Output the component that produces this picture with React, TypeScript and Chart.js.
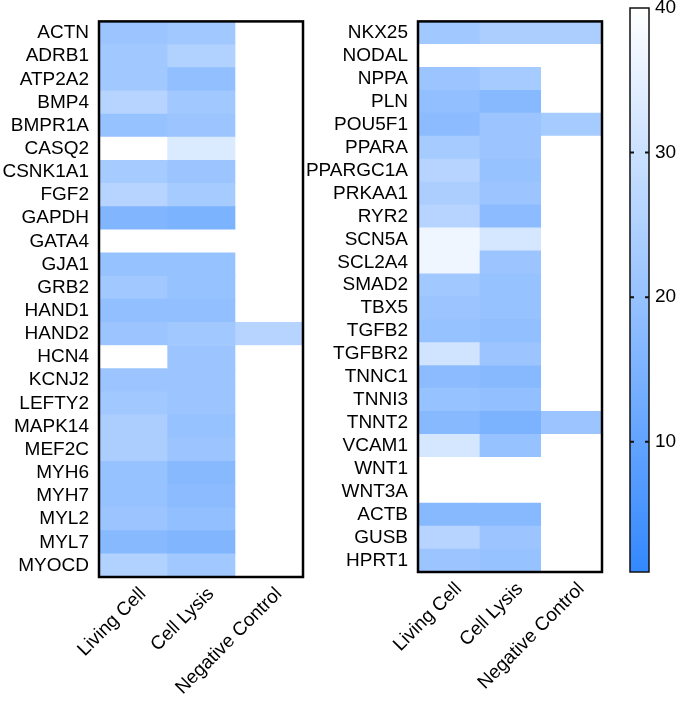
import React, { useEffect, useRef } from "react";
import { Chart, registerables } from "chart.js";
Chart.register(...registerables);

const FONT = "'Liberation Sans', Arial, sans-serif";
const columns = ["Living Cell", "Cell Lysis", "Negative Control"];

const genesLeft = [
  "ACTN", "ADRB1", "ATP2A2", "BMP4", "BMPR1A", "CASQ2", "CSNK1A1", "FGF2",
  "GAPDH", "GATA4", "GJA1", "GRB2", "HAND1", "HAND2", "HCN4", "KCNJ2",
  "LEFTY2", "MAPK14", "MEF2C", "MYH6", "MYH7", "MYL2", "MYL7", "MYOCD",
];
const livingLeft = [21, 22, 22, 26, 20, 40, 23, 26, 16, 40, 20, 22, 19, 21, 40, 21, 22, 24, 24, 20, 20, 21, 17, 25];
const lysisLeft = [22, 25, 19, 22, 21, 33, 21, 23, 15, 40, 20, 20, 19, 22, 21, 21, 21, 20, 21, 17, 18, 19, 16, 22];
const negLeft = [40, 40, 40, 40, 40, 40, 40, 40, 40, 40, 40, 40, 40, 26, 40, 40, 40, 40, 40, 40, 40, 40, 40, 40];

const genesRight = [
  "NKX25", "NODAL", "NPPA", "PLN", "POU5F1", "PPARA", "PPARGC1A", "PRKAA1",
  "RYR2", "SCN5A", "SCL2A4", "SMAD2", "TBX5", "TGFB2", "TGFBR2", "TNNC1",
  "TNNI3", "TNNT2", "VCAM1", "WNT1", "WNT3A", "ACTB", "GUSB", "HPRT1",
];
const livingRight = [22, 40, 21, 19, 18, 23, 26, 24, 26, 37, 37, 22, 21, 20, 31, 18, 20, 17, 32, 40, 40, 17, 26, 21];
const lysisRight = [24, 40, 23, 17, 21, 21, 20, 21, 18, 32, 21, 20, 20, 19, 21, 17, 19, 15, 20, 40, 40, 17, 21, 20];
const negRight = [24, 40, 40, 40, 23, 40, 40, 40, 40, 40, 40, 40, 40, 40, 40, 40, 40, 21, 40, 40, 40, 40, 40, 40];

const scaleMin = 1;
const scaleMax = 40;
const colorbarTicks = [10, 20, 30, 40];

const LOW = [51, 136, 255];
const HIGH = [255, 255, 255];
function colorFor(v: number): string {
  let t = (v - scaleMin) / (scaleMax - scaleMin);
  t = Math.max(0, Math.min(1, t));
  const c = LOW.map((l, i) => Math.round(l + (HIGH[i] - l) * t));
  return `rgb(${c[0]},${c[1]},${c[2]})`;
}

const frame = {
  id: "frame",
  afterDatasetsDraw(chart: any) {
    const { ctx, chartArea } = chart;
    ctx.save();
    ctx.strokeStyle = "#000";
    ctx.lineWidth = 2.5;
    ctx.strokeRect(chartArea.left, chartArea.top, chartArea.right - chartArea.left, chartArea.bottom - chartArea.top);
    ctx.restore();
  },
};

type HMProps = {
  genes: string[];
  series: number[][];
  left: number;
  width: number;
  yWidth: number;
  top: number;
  bottom: number;
  rightPad: number;
};

function Heatmap({ genes, series, left, width, yWidth, top, bottom, rightPad }: HMProps) {
  const ref = useRef<HTMLCanvasElement>(null);
  useEffect(() => {
    const chart = new Chart(ref.current!, {
      type: "bar",
      data: {
        labels: genes,
        datasets: series.map((vals, c) => ({
          data: vals.map(() => [c, c + 1]),
          backgroundColor: vals.map(colorFor),
          borderWidth: 0,
          barPercentage: 1,
          categoryPercentage: 1,
          grouped: false,
        })) as any,
      },
      options: {
        indexAxis: "y",
        responsive: true,
        maintainAspectRatio: false,
        animation: false,
        layout: { padding: { top, right: rightPad, left: 0, bottom: 0 } },
        plugins: { legend: { display: false }, tooltip: { enabled: false } },
        scales: {
          x: {
            type: "linear",
            min: 0,
            max: 3,
            position: "bottom",
            grid: { display: false, drawTicks: false },
            border: { display: false },
            afterBuildTicks: (s: any) => {
              s.ticks = columns.map((_, i) => ({ value: i + 0.5 }));
            },
            afterFit: (s: any) => {
              s.height = 704 - bottom;
              s.paddingLeft = 0;
              s.paddingRight = 0;
            },
            ticks: {
              autoSkip: false,
              minRotation: 45,
              maxRotation: 45,
              labelOffset: 10,
              padding: 6,
              color: "#000",
              font: { family: FONT, size: 19 },
              callback: (_v: any, i: number) => columns[i],
            },
          },
          y: {
            type: "category",
            grid: { display: false, drawTicks: false },
            border: { display: false },
            afterFit: (s: any) => {
              s.width = yWidth;
            },
            ticks: {
              autoSkip: false,
              padding: 10,
              color: "#000",
              font: { family: FONT, size: 19 },
            },
          },
        },
      } as any,
      plugins: [frame],
    });
    return () => chart.destroy();
  }, []);
  return (
    <div style={{ position: "absolute", left, top: 0, width, height: 704 }}>
      <canvas ref={ref} />
    </div>
  );
}

function ColorBar() {
  const ref = useRef<HTMLCanvasElement>(null);
  useEffect(() => {
    const cbFrame = {
      id: "cbFrame",
      afterDatasetsDraw(chart: any) {
        const { ctx, chartArea } = chart;
        const { left, right, top, bottom } = chartArea;
        const y = chart.scales.y;
        ctx.save();
        ctx.strokeStyle = "#111";
        ctx.lineWidth = 1.5;
        ctx.strokeRect(left, top, right - left, bottom - top);
        ctx.lineWidth = 2;
        colorbarTicks.forEach((v) => {
          if (v >= scaleMax) return;
          const py = y.getPixelForValue(v);
          ctx.beginPath();
          ctx.moveTo(left, py);
          ctx.lineTo(left + 4, py);
          ctx.moveTo(right - 4, py);
          ctx.lineTo(right, py);
          ctx.stroke();
        });
        ctx.restore();
      },
    };
    const chart = new Chart(ref.current!, {
      type: "bar",
      data: {
        labels: [""],
        datasets: [
          {
            data: [[scaleMin, scaleMax]] as any,
            backgroundColor: (c: any) => {
              const ch = c.chart;
              const y = ch.scales && ch.scales.y;
              if (!ch.chartArea || !y) return colorFor(20);
              const g = ch.ctx.createLinearGradient(0, y.getPixelForValue(scaleMin), 0, y.getPixelForValue(scaleMax));
              g.addColorStop(0, colorFor(scaleMin));
              g.addColorStop(1, colorFor(scaleMax));
              return g;
            },
            borderWidth: 0,
            barPercentage: 1,
            categoryPercentage: 1,
          },
        ],
      },
      options: {
        responsive: true,
        maintainAspectRatio: false,
        animation: false,
        layout: { padding: { left: 30, top: 8, bottom: 132, right: 0 } },
        plugins: { legend: { display: false }, tooltip: { enabled: false } },
        scales: {
          x: { display: false },
          y: {
            position: "right",
            min: scaleMin,
            max: scaleMax,
            grid: { display: false, drawTicks: false },
            border: { display: false },
            afterBuildTicks: (s: any) => {
              s.ticks = colorbarTicks.map((v) => ({ value: v }));
            },
            afterFit: (s: any) => {
              s.width = 28;
              s.paddingTop = 0;
              s.paddingBottom = 0;
            },
            ticks: {
              padding: 6,
              color: "#000",
              font: { family: FONT, size: 19 },
            },
          },
        },
      } as any,
      plugins: [cbFrame],
    });
    return () => chart.destroy();
  }, []);
  return (
    <div style={{ position: "absolute", left: 600, top: 0, width: 77, height: 704 }}>
      <canvas ref={ref} />
    </div>
  );
}

export default function App() {
  return (
    <div style={{ position: "absolute", left: 0, top: 0, width: 677, height: 704, background: "#fff", overflow: "hidden" }}>
      <Heatmap
        genes={genesLeft}
        series={[livingLeft, lysisLeft, negLeft]}
        left={0}
        width={320}
        yWidth={99}
        top={9}
        bottom={577}
        rightPad={17}
      />
      <Heatmap
        genes={genesRight}
        series={[livingRight, lysisRight, negRight]}
        left={300}
        width={320}
        yWidth={118}
        top={9}
        bottom={572}
        rightPad={18}
      />
      <ColorBar />
    </div>
  );
}
